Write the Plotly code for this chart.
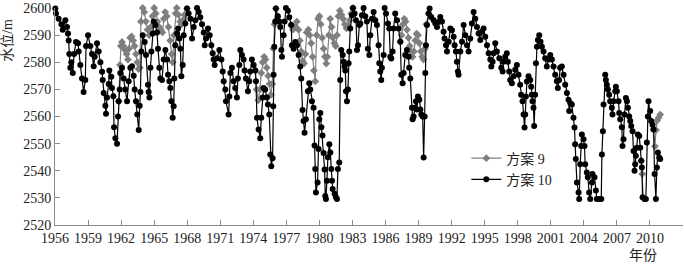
import plotly.graph_objects as go

# 方案10 (black) – decimal year / water level (m)
year10 = [
    1956.03, 1956.09, 1956.33, 1956.58, 1956.70, 1956.94, 1957.09, 1957.18, 1957.24, 1957.30, 1957.39, 1957.48, 1957.61, 1957.73, 1957.91,
    1958.09, 1958.15, 1958.30, 1958.45, 1958.60, 1958.75, 1958.82, 1959.00, 1959.21, 1959.36, 1959.51, 1959.60, 1959.81, 1959.96,
    1960.12, 1960.27, 1960.33, 1960.42, 1960.57, 1960.63, 1960.72, 1960.87, 1960.93, 1961.11, 1961.17, 1961.30, 1961.36, 1961.48, 1961.63, 1961.72, 1961.78, 1961.87, 1961.93,
    1962.08, 1962.23, 1962.38, 1962.54, 1962.69, 1962.84, 1962.99, 1963.14, 1963.23, 1963.35, 1963.47, 1963.60, 1963.69, 1963.75, 1963.84, 1963.96,
    1964.14, 1964.26, 1964.44, 1964.50, 1964.57, 1964.66, 1964.75, 1964.87, 1964.96, 1965.11, 1965.26, 1965.35, 1965.47, 1965.56, 1965.71, 1965.87,
    1966.02, 1966.17, 1966.26, 1966.38, 1966.47, 1966.56, 1966.68, 1966.77, 1966.83, 1966.92, 1967.08, 1967.17, 1967.29, 1967.38, 1967.47, 1967.59, 1967.68, 1967.83, 1967.98,
    1968.13, 1968.29, 1968.44, 1968.59, 1968.74, 1968.89, 1969.04, 1969.19, 1969.34, 1969.50, 1969.59, 1969.71, 1969.89,
    1970.04, 1970.19, 1970.31, 1970.40, 1970.49, 1970.71, 1970.92, 1971.10, 1971.22, 1971.31, 1971.46, 1971.52, 1971.76, 1971.82, 1971.92,
    1972.06, 1972.21, 1972.36, 1972.51, 1972.60, 1972.73, 1972.82, 1972.97, 1973.12, 1973.21, 1973.33, 1973.51, 1973.63, 1973.72, 1973.87,
    1974.03, 1974.18, 1974.24, 1974.33, 1974.48, 1974.63, 1974.72, 1974.84, 1974.93, 1975.08, 1975.24, 1975.33, 1975.45, 1975.54, 1975.63, 1975.75, 1975.81, 1975.84, 1975.90, 1975.99,
    1976.05, 1976.23, 1976.36, 1976.45, 1976.54, 1976.60, 1976.75, 1976.84, 1976.96, 1977.14, 1977.26, 1977.44, 1977.50, 1977.66, 1977.81, 1977.96,
    1978.11, 1978.26, 1978.35, 1978.47, 1978.56, 1978.65, 1978.77, 1978.96, 1979.08, 1979.17, 1979.32, 1979.47, 1979.56, 1979.62, 1979.68, 1979.83, 1979.92, 1979.99,
    1980.08, 1980.18, 1980.28, 1980.38, 1980.47, 1980.53, 1980.59, 1980.68, 1980.77, 1980.90, 1980.99, 1981.08, 1981.14, 1981.20, 1981.38, 1981.50, 1981.59, 1981.68, 1981.80, 1981.89, 1981.98,
    1982.11, 1982.20, 1982.29, 1982.35, 1982.41, 1982.50, 1982.59, 1982.65, 1982.71, 1982.80, 1982.95, 1983.04, 1983.19, 1983.32, 1983.41, 1983.50, 1983.62, 1983.71, 1983.86,
    1984.01, 1984.16, 1984.31, 1984.40, 1984.53, 1984.62, 1984.77, 1984.92, 1985.07, 1985.22, 1985.37, 1985.43, 1985.52, 1985.61, 1985.67, 1985.83, 1985.92,
    1986.04, 1986.22, 1986.34, 1986.43, 1986.52, 1986.64, 1986.73, 1986.88, 1987.04, 1987.19, 1987.34, 1987.43, 1987.55, 1987.64, 1987.79, 1987.94,
    1988.09, 1988.15, 1988.25, 1988.40, 1988.46, 1988.55, 1988.64, 1988.76, 1988.85, 1988.94, 1989.07, 1989.16, 1989.25, 1989.37, 1989.46, 1989.55, 1989.61, 1989.67, 1989.76, 1989.91,
    1990.00, 1990.15, 1990.37, 1990.52, 1990.67, 1990.82, 1990.97, 1991.12, 1991.27, 1991.36, 1991.49, 1991.58, 1991.73, 1991.88,
    1992.03, 1992.18, 1992.27, 1992.39, 1992.48, 1992.57, 1992.63, 1992.79, 1992.94, 1993.09, 1993.24, 1993.39, 1993.54, 1993.69, 1993.84, 1993.99,
    1994.15, 1994.30, 1994.45, 1994.60, 1994.75, 1994.90, 1995.05, 1995.21, 1995.36, 1995.51, 1995.60, 1995.72, 1995.81, 1995.96,
    1996.11, 1996.33, 1996.51, 1996.63, 1996.71, 1996.86, 1997.01, 1997.10, 1997.23, 1997.32, 1997.47, 1997.62, 1997.77, 1997.92,
    1998.07, 1998.22, 1998.31, 1998.44, 1998.53, 1998.62, 1998.68, 1998.74, 1998.83, 1998.98, 1999.13, 1999.22, 1999.28, 1999.34, 1999.43, 1999.49, 1999.58, 1999.65, 1999.74, 1999.83, 1999.95,
    2000.07, 2000.19, 2000.34, 2000.49, 2000.64, 2000.79, 2000.95, 2001.10, 2001.25, 2001.40, 2001.55, 2001.64, 2001.76, 2001.85,
    2002.00, 2002.16, 2002.31, 2002.46, 2002.61, 2002.67, 2002.76, 2002.91, 2003.06, 2003.15, 2003.21, 2003.27, 2003.37, 2003.52, 2003.58, 2003.67, 2003.76, 2003.82, 2003.97,
    2004.06, 2004.12, 2004.27, 2004.36, 2004.48, 2004.58, 2004.73, 2004.78, 2004.97, 2005.09, 2005.18, 2005.40, 2005.58, 2005.64, 2005.73, 2005.79, 2005.94,
    2006.00, 2006.09, 2006.18, 2006.30, 2006.39, 2006.54, 2006.60, 2006.70, 2006.85, 2006.91, 2007.00, 2007.15, 2007.21, 2007.30, 2007.45, 2007.51, 2007.60, 2007.69, 2007.82, 2007.91,
    2008.00, 2008.12, 2008.21, 2008.30, 2008.42, 2008.51, 2008.60, 2008.66, 2008.72, 2008.81, 2008.90, 2009.03, 2009.12, 2009.21, 2009.27, 2009.33, 2009.51, 2009.63, 2009.72, 2009.81, 2009.87,
    2010.02, 2010.11, 2010.24, 2010.33, 2010.42, 2010.54, 2010.63, 2010.72, 2010.84, 2010.93,
]
level10 = [
    2599.8, 2598, 2596, 2594, 2592, 2595.5, 2593, 2590.6, 2588, 2583, 2578, 2580, 2576, 2583, 2587.5,
    2587, 2584, 2579, 2574, 2569, 2573.5, 2586, 2590, 2586, 2583, 2578.5, 2582, 2587, 2584,
    2580, 2576.5, 2573.5, 2568.7, 2564, 2561, 2567, 2572, 2577, 2574.7, 2570.5, 2567.5, 2556, 2552, 2550, 2560, 2565.6, 2570, 2576,
    2578, 2574, 2570, 2565.6, 2573, 2578, 2578.5, 2575, 2570, 2565.6, 2560.7, 2555, 2564, 2569, 2584, 2590,
    2587.5, 2582.7, 2571.7, 2569, 2567, 2578, 2584, 2590.6, 2595, 2593.7, 2591, 2585, 2578, 2574, 2573.5, 2581,
    2584.5, 2581, 2575.4, 2573, 2570.5, 2565.6, 2559.5, 2563.8, 2574, 2586.3, 2590.6, 2592.4, 2588.8, 2585, 2574.8, 2579, 2590, 2594.3, 2599.8,
    2598, 2596, 2588.8, 2593, 2595.5, 2600, 2598.5, 2596.6, 2594, 2591, 2586.3, 2588.8, 2592.4,
    2590, 2586.3, 2583.3, 2581, 2579, 2581.5, 2584.5, 2581, 2576.6, 2573, 2570, 2565.6, 2560.7, 2567.4, 2576,
    2578, 2573, 2570.5, 2567, 2574, 2579, 2584.5, 2582.7, 2581, 2577, 2574, 2569.3, 2573, 2576.6, 2581,
    2579, 2577, 2573, 2559.5, 2555.2, 2552, 2559.5, 2567, 2570.5, 2570, 2567, 2564.4, 2560.7, 2546, 2541.7, 2544.6, 2563.8, 2575.4, 2585.7, 2595,
    2599.8, 2597, 2595, 2593, 2584.5, 2582, 2590, 2595, 2600, 2599, 2596.6, 2593.7, 2586.3, 2585, 2587.5, 2586.3,
    2582.7, 2578.4, 2574, 2562.4, 2558.3, 2554, 2559, 2569.3, 2572.3, 2570, 2565.6, 2563.2, 2549.3, 2540.6, 2532, 2535.7, 2548, 2559,
    2561.3, 2556, 2553, 2546.5, 2540.5, 2530.7, 2529.6, 2536.3, 2545, 2549.8, 2546.7, 2540.6, 2536.3, 2533.3, 2531.5, 2530.2, 2529.6, 2540.6, 2543, 2573.5, 2584.5,
    2582.7, 2580.2, 2578.4, 2577, 2569.3, 2565.6, 2570, 2579.6, 2584, 2592.4, 2597.3, 2600, 2598, 2595.5, 2584.5, 2586.3, 2593.7, 2594.3, 2597.3,
    2600, 2597, 2595, 2585, 2582.7, 2590, 2596, 2598.5, 2595.5, 2593.7, 2586.3, 2579.6, 2576.6, 2573.5, 2578, 2582.7, 2600,
    2598, 2594.3, 2592.4, 2582, 2581.4, 2584, 2592.4, 2598, 2595.5, 2592.4, 2587.6, 2575.4, 2572.3, 2576, 2582.7, 2584.5,
    2582, 2578, 2574, 2563.2, 2559, 2560, 2563.2, 2565.6, 2562.6, 2567.4, 2566.2, 2562.6, 2560.7, 2560, 2544.9, 2560, 2576, 2586.3, 2593.7, 2598,
    2599.8, 2596.7, 2595.5, 2594.3, 2593, 2594.8, 2596.7, 2595, 2591.2, 2588.8, 2586.3, 2584, 2587.6, 2592.4,
    2591.8, 2589.4, 2586.3, 2584, 2580.2, 2576.6, 2575.4, 2584, 2587.6, 2593.7, 2590, 2586.3, 2584, 2588.8, 2594.3, 2598.5,
    2596, 2593, 2590.6, 2588.2, 2591.2, 2592.4, 2589.4, 2586.3, 2583.3, 2581, 2578.4, 2580.2, 2583.3, 2587,
    2584, 2581.5, 2578, 2576.6, 2580.2, 2582, 2583.3, 2580.2, 2576.6, 2573.5, 2572.3, 2574.8, 2577.2, 2579,
    2575.4, 2571.7, 2568, 2565.6, 2560.7, 2555.9, 2560.7, 2567.4, 2572.9, 2574.8, 2573.5, 2571, 2568, 2565.6, 2563.2, 2556.5, 2568, 2579.6, 2585.7, 2588.2, 2590,
    2587.6, 2585.7, 2584, 2581.5, 2578.4, 2581, 2582.7, 2581, 2578.4, 2575.4, 2573, 2570.5, 2573.5, 2578,
    2578.4, 2575.4, 2571.7, 2568.7, 2566.2, 2562, 2565, 2564.4, 2559.5, 2555.9, 2549.8, 2544.3, 2535.7, 2532, 2529.6, 2542.4, 2549.1, 2553.4, 2551.6,
    2549.1, 2542.4, 2539.4, 2537.6, 2532, 2529.6, 2535.7, 2538.8, 2537.6, 2532.7, 2529.6, 2529.6, 2529.6, 2546, 2554.6, 2564.4, 2575.4,
    2573.5, 2571.7, 2570, 2568, 2565.6, 2563.2, 2560.7, 2565.6, 2569.3, 2571, 2569.3, 2565.6, 2561.3, 2559, 2556, 2549.1, 2551.6, 2560.7, 2566.8, 2565.6,
    2563.2, 2560, 2558.3, 2556.5, 2554.6, 2547.3, 2540, 2542.4, 2545.5, 2548.5, 2553.4, 2552.8, 2548.5, 2543.7, 2541.2, 2530.2, 2529.6, 2529.6, 2550.4, 2560, 2565.6,
    2562, 2558.3, 2557, 2555.2, 2538.8, 2529.6, 2541.2, 2546.7, 2544.9, 2544.3,
]

# 方案9 (grey) – only where it departs from 方案10 (None = break)
year9 = [
    1961.78, 1961.90, 1961.98, 1962.08, 1962.20, 1962.35, 1962.50, 1962.62, 1962.72, 1962.82, 1962.95, 1963.10, 1963.22, 1963.35, 1963.47, 1963.58, 1963.70, 1963.80, 1963.96,
    1964.10, 1964.25, 1964.40, 1964.55, 1964.70, 1964.85, 1965.00, 1965.15, 1965.30, 1965.45, 1965.60, 1965.75, 1965.88,
    1966.00, 1966.15, 1966.30, 1966.45, 1966.58, 1966.68, 1966.80, 1966.95, 1967.05, 1967.20, 1967.35, 1967.50, 1967.62, 1967.75, 1967.98, None,
    1974.18, 1974.30, 1974.45, 1974.60, 1974.72, 1974.85, 1974.98, 1975.10, 1975.22, 1975.35, 1975.48, 1975.60, 1975.72, 1975.82, 1975.92, 1976.05, None,
    1977.44, 1977.60, 1977.78, 1977.95, 1978.10, 1978.22, 1978.35, 1978.48, 1978.60, 1978.72, 1978.85, 1979.00, 1979.12, 1979.25, 1979.38, 1979.50, 1979.62, 1979.75, 1979.88,
    1980.00, 1980.12, 1980.25, 1980.38, 1980.50, 1980.62, 1980.72, 1980.85, 1980.98, 1981.10, 1981.22, 1981.35, 1981.48, 1981.60, 1981.72, 1981.85,
    1982.00, 1982.15, 1982.30, 1982.45, 1982.60, 1982.75, 1982.90, 1983.04, None,
    1987.34, 1987.45, 1987.58, 1987.70, 1987.82, 1987.95, 1988.08, 1988.20, 1988.32, 1988.45, 1988.58, 1988.70, 1988.82, 1988.95,
    1989.08, 1989.20, 1989.32, 1989.45, 1989.58, 1989.70, 1989.91, None,
    2009.21, 2009.30, 2009.40, None,
    2010.33, 2010.45, 2010.55, 2010.65, 2010.78, 2010.93,
]
level9 = [
    2565.6, 2579, 2586, 2587.5, 2586, 2584.5, 2583, 2581, 2585, 2589, 2589.5, 2588, 2586, 2583, 2580, 2577.5, 2578, 2595, 2600,
    2598.5, 2595, 2592, 2590, 2593, 2597, 2600, 2598, 2595, 2593, 2592, 2591, 2596,
    2598.5, 2597, 2593, 2588, 2583, 2580, 2590, 2598, 2600, 2597.5, 2595, 2594, 2595.5, 2597.5, 2599.8, None,
    2577, 2570, 2566, 2570, 2576, 2580, 2582, 2581, 2578, 2575, 2572, 2568, 2572, 2585, 2594, 2599.8, None,
    2593.7, 2592, 2593, 2595, 2592, 2588, 2584, 2580.5, 2579.5, 2583, 2591, 2592, 2590, 2587, 2582, 2577, 2573, 2590, 2596,
    2597, 2594, 2589, 2585, 2582, 2579.5, 2582, 2590, 2596, 2593, 2589, 2587, 2586, 2590, 2597, 2599,
    2597.5, 2596, 2594, 2592.5, 2593.5, 2595.5, 2598, 2600, None,
    2587.6, 2590, 2594, 2596, 2595, 2592, 2589, 2586, 2584, 2582, 2584, 2588, 2590.5, 2590,
    2587, 2584, 2582, 2581, 2585, 2594, 2598, None,
    2543.7, 2538.8, 2530, None,
    2555.2, 2549, 2555, 2558.5, 2559.5, 2560.7,
]

assert len(year10) == len(level10)
assert len(year9) == len(level9)

x_tick_years = list(range(1956, 2014, 3))
x_tick_text = [str(y) if y <= 2010 else "" for y in x_tick_years]
y_tick_vals = list(range(2520, 2601, 10))

serif = '"Liberation Serif", "Times New Roman", "Noto Sans CJK SC", serif'
axis_grey = "#8c8c8c"
text_col = "#222222"

fig = go.Figure()
fig.add_trace(go.Scatter(
    x=year9, y=level9, name="方案 9", mode="lines+markers",
    line=dict(color="#7f7f7f", width=1.2),
    marker=dict(symbol="diamond", size=6, color="#7f7f7f"),
    cliponaxis=False, connectgaps=False,
))
fig.add_trace(go.Scatter(
    x=year10, y=level10, name="方案 10", mode="lines+markers",
    line=dict(color="#000000", width=1.2),
    marker=dict(symbol="circle", size=6, color="#000000"),
    cliponaxis=False,
))

fig.update_layout(
    width=684, height=264,
    margin=dict(l=55, r=1, t=5, b=39),
    paper_bgcolor="white", plot_bgcolor="white",
    font=dict(family=serif, size=14, color=text_col),
    showlegend=True,
    legend=dict(x=0.655, y=0.38, xanchor="left", yanchor="top",
                bgcolor="rgba(0,0,0,0)", font=dict(family=serif, size=14, color=text_col),
                itemwidth=30),
    xaxis=dict(range=[1956, 2013], tickmode="array", tickvals=x_tick_years, ticktext=x_tick_text,
               ticks="inside", ticklen=5, tickcolor=axis_grey, showgrid=False, zeroline=False,
               showline=True, linecolor=axis_grey, linewidth=1, tickfont=dict(family=serif, size=14),
               ticklabeloverflow="allow"),
    yaxis=dict(range=[2520, 2600], tickmode="array", tickvals=y_tick_vals,
               ticks="inside", ticklen=5, tickcolor=axis_grey, showgrid=False, zeroline=False,
               showline=True, linecolor=axis_grey, linewidth=1, tickfont=dict(family=serif, size=14),
               ticklabeloverflow="allow"),
    annotations=[
        dict(text="水位/m", xref="paper", yref="paper", x=-0.076, y=0.85, textangle=-90,
             showarrow=False, font=dict(family=serif, size=14), xanchor="center", yanchor="middle"),
        dict(text="年份", xref="paper", yref="paper", x=0.937, y=-0.141, showarrow=False,
             font=dict(family=serif, size=14), xanchor="center", yanchor="middle"),
    ],
)

fig.write_html("out.html")
